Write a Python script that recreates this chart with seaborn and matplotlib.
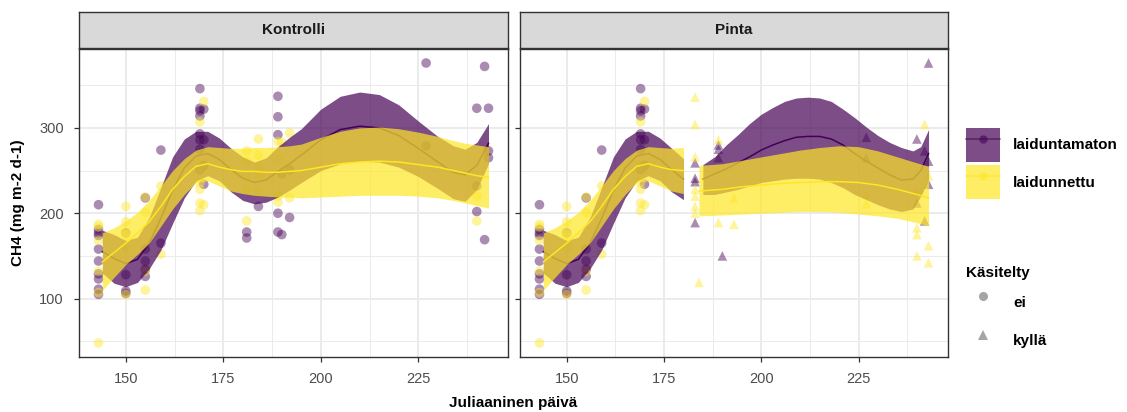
import numpy as np
import pandas as pd
import matplotlib
matplotlib.use("Agg")
import matplotlib.pyplot as plt
import seaborn as sns
from matplotlib.lines import Line2D
from matplotlib.patches import Patch
from matplotlib.legend_handler import HandlerTuple
from matplotlib.ticker import FixedLocator

# ---------------- data ----------------
panels = ["Kontrolli", "Pinta"]
groups = ["laiduntamaton", "laidunnettu"]
treatments = ["ei", "kyllä"]
x_breaks = [150, 175, 200, 225]
y_breaks = [100, 200, 300]

# Kontrolli, laiduntamaton, ei
kon_lt_day = [143, 143, 143, 143, 143, 143, 143, 143, 143, 143,
              150, 150, 150, 150, 155, 155, 155, 155, 155, 159, 159,
              169, 169, 169, 169, 169, 169, 169, 169, 170, 170, 170, 170,
              181, 181, 184, 189, 189, 189, 189, 189, 190, 190, 192, 192,
              227, 227, 240, 240, 240, 242, 242, 243, 243, 243]
kon_lt_ch4 = [210, 181, 177, 174, 158, 144, 129, 123, 111, 105,
              177, 128, 109, 106, 218, 158, 144, 134, 126, 274, 165,
              346, 323, 320, 314, 293, 286, 275, 251, 322, 286, 256, 234,
              178, 171, 208, 337, 313, 292, 200, 178, 246, 175, 251, 195,
              376, 279, 323, 232, 202, 372, 169, 323, 273, 265]
# Kontrolli, laidunnettu, ei
kon_ld_day = [143, 143, 143, 143, 143, 143, 150, 150, 150, 150, 150,
              155, 155, 155, 155, 159, 159, 169, 169, 169, 169, 169, 169,
              170, 170, 181, 181, 181, 181, 181, 184, 184, 184, 184, 184,
              189, 189, 189, 189, 190, 192, 192, 240, 240]
kon_ld_ch4 = [187, 184, 168, 132, 107, 48, 208, 190, 175, 160, 105,
              219, 201, 132, 110, 232, 152, 307, 255, 236, 228, 212, 203,
              331, 210, 273, 261, 243, 228, 191, 287, 268, 254, 244, 226,
              284, 263, 220, 213, 283, 294, 218, 191, 220]
# Pinta, laiduntamaton, ei
pin_lt_ei_day = [143, 143, 143, 143, 143, 143, 143, 143, 143, 143,
                 150, 150, 150, 150, 155, 155, 155, 155, 155, 159, 159,
                 169, 169, 169, 169, 169, 169, 169, 169, 170, 170, 170, 170]
pin_lt_ei_ch4 = [210, 181, 177, 174, 158, 144, 129, 123, 111, 105,
                 177, 128, 109, 106, 218, 158, 144, 134, 126, 274, 165,
                 346, 323, 320, 314, 293, 286, 275, 251, 322, 286, 256, 234]
# Pinta, laidunnettu, ei
pin_ld_ei_day = [143, 143, 143, 143, 143, 143, 150, 150, 150, 150, 150,
                 155, 155, 155, 155, 159, 159, 169, 169, 169, 169, 169, 169,
                 170, 170]
pin_ld_ei_ch4 = [187, 184, 168, 132, 107, 48, 208, 190, 175, 160, 105,
                 219, 201, 132, 110, 232, 152, 307, 255, 236, 228, 212, 203,
                 331, 210]
# Pinta, laiduntamaton, kyllä
pin_lt_ky_day = [183, 183, 183, 183, 189, 189, 189, 190, 227, 227,
                 240, 240, 242, 242, 243, 243, 243]
pin_lt_ky_ch4 = [259, 241, 237, 189, 280, 275, 265, 150, 289, 265,
                 287, 212, 191, 273, 376, 261, 234]
# Pinta, laidunnettu, kyllä
pin_ld_ky_day = [183, 183, 183, 183, 183, 183, 183, 184, 189, 189,
                 193, 193, 227, 227, 240, 240, 240, 240, 242, 243, 243, 243]
pin_ld_ky_ch4 = [336, 304, 266, 228, 220, 208, 200, 119, 286, 189,
                 218, 187, 222, 211, 226, 183, 175, 150, 304, 244, 162, 142]

# smooth fits (estimate, lower, upper)
kon_sm_day = [144, 147, 150, 153, 156, 159, 162, 165, 168, 171, 174, 177, 180,
              183, 186, 189, 192, 195, 200, 205, 210, 215, 220, 225, 230, 234,
              237, 240, 243]
kon_lt_fit = [155, 147, 141, 146, 165, 194, 227, 253, 267, 270, 263, 251, 241,
              236, 239, 249, 258, 268, 286, 298, 302, 300, 291, 276, 260, 248,
              245, 256, 282]
kon_lt_lo = [130, 118, 114, 119, 135, 157, 188, 218, 238, 244, 238, 225, 215,
             211, 213, 219, 227, 236, 250, 258, 261, 260, 254, 243, 229, 217,
             214, 228, 258]
kon_lt_hi = [180, 175, 168, 172, 195, 230, 266, 287, 296, 296, 288, 276, 266,
             260, 265, 278, 289, 299, 322, 337, 342, 339, 327, 308, 290, 279,
             275, 283, 305]
kon_ld_fit = [143, 154, 165, 177, 190, 208, 228, 243, 255, 258, 254, 251, 249,
              249, 248, 248, 249, 250, 254, 258, 260, 261, 260, 257, 254, 250,
              247, 244, 242]
kon_ld_lo = [110, 125, 140, 152, 165, 185, 205, 222, 236, 238, 232, 226, 223,
             221, 220, 219, 219, 218, 219, 220, 221, 221, 221, 220, 218, 215,
             212, 209, 206]
kon_ld_hi = [177, 183, 191, 201, 215, 232, 250, 264, 274, 278, 277, 276, 276,
             277, 277, 278, 279, 281, 289, 296, 300, 301, 299, 295, 290, 285,
             282, 280, 278]

pin_ei_sm_day = [144, 147, 150, 153, 156, 159, 162, 165, 168, 171, 174, 177, 180]
pin_lt_ei_fit = [155, 147, 141, 146, 165, 194, 227, 253, 267, 270, 263, 251, 240]
pin_lt_ei_lo = [130, 118, 114, 119, 135, 157, 188, 218, 238, 244, 238, 225, 216]
pin_lt_ei_hi = [180, 175, 168, 172, 195, 230, 266, 287, 296, 296, 288, 276, 264]
pin_ld_ei_fit = [143, 154, 165, 177, 190, 208, 228, 243, 255, 258, 254, 251, 250]
pin_ld_ei_lo = [110, 125, 140, 152, 165, 185, 205, 222, 236, 238, 232, 226, 223]
pin_ld_ei_hi = [177, 183, 191, 201, 215, 232, 250, 264, 274, 278, 277, 276, 277]

pin_lt_ky_sm_day = [185, 188, 191, 194, 197, 200, 203, 206, 209, 212, 215, 218,
                    221, 224, 227, 230, 233, 236, 239, 241, 243]
pin_lt_ky_fit = [240, 246, 252, 259, 266, 274, 280, 285, 289, 290, 290, 287,
                 280, 270, 261, 253, 245, 239, 240, 250, 270]
pin_lt_ky_lo = [222, 222, 225, 228, 232, 236, 238, 240, 241, 241, 240, 236,
                230, 222, 216, 210, 205, 202, 205, 220, 240]
pin_lt_ky_hi = [257, 266, 280, 292, 305, 316, 324, 331, 335, 336, 335, 331,
                322, 312, 301, 291, 283, 277, 273, 278, 298]
pin_ld_ky_sm_day = [184, 190, 195, 200, 205, 210, 215, 220, 225, 230, 235, 240, 243]
pin_ld_ky_fit = [226, 228, 231, 233, 235, 236, 237, 237, 236, 233, 228, 222, 218]
pin_ld_ky_lo = [197, 198, 199, 200, 201, 202, 202, 201, 199, 197, 194, 189, 185]
pin_ld_ky_hi = [256, 258, 262, 266, 270, 274, 277, 279, 278, 273, 266, 259, 255]

# ---------------- tables ----------------
def pts(panel, group, treat, days, vals):
    return pd.DataFrame({"paneeli": panel, "laidunnus": group, "Käsitelty": treat,
                         "paiva": days, "ch4": vals})

points = pd.concat([
    pts("Kontrolli", "laiduntamaton", "ei", kon_lt_day, kon_lt_ch4),
    pts("Kontrolli", "laidunnettu", "ei", kon_ld_day, kon_ld_ch4),
    pts("Pinta", "laiduntamaton", "ei", pin_lt_ei_day, pin_lt_ei_ch4),
    pts("Pinta", "laidunnettu", "ei", pin_ld_ei_day, pin_ld_ei_ch4),
    pts("Pinta", "laiduntamaton", "kyllä", pin_lt_ky_day, pin_lt_ky_ch4),
    pts("Pinta", "laidunnettu", "kyllä", pin_ld_ky_day, pin_ld_ky_ch4),
], ignore_index=True)

smooths = [
    ("Kontrolli", "laiduntamaton", kon_sm_day, kon_lt_fit, kon_lt_lo, kon_lt_hi),
    ("Kontrolli", "laidunnettu", kon_sm_day, kon_ld_fit, kon_ld_lo, kon_ld_hi),
    ("Pinta", "laiduntamaton", pin_ei_sm_day, pin_lt_ei_fit, pin_lt_ei_lo, pin_lt_ei_hi),
    ("Pinta", "laiduntamaton", pin_lt_ky_sm_day, pin_lt_ky_fit, pin_lt_ky_lo, pin_lt_ky_hi),
    ("Pinta", "laidunnettu", pin_ei_sm_day, pin_ld_ei_fit, pin_ld_ei_lo, pin_ld_ei_hi),
    ("Pinta", "laidunnettu", pin_ld_ky_sm_day, pin_ld_ky_fit, pin_ld_ky_lo, pin_ld_ky_hi),
]

# ---------------- style ----------------
COLORS = {"laiduntamaton": "#440154", "laidunnettu": "#FDE725"}
MARKERS = {"ei": "o", "kyllä": "^"}
RIB_ALPHA = 0.7
PT_ALPHA = 0.45
plt.rcParams["font.family"] = ["Liberation Sans", "DejaVu Sans"]

W, H = 1127, 412
fig = plt.figure(figsize=(W / 100, H / 100), dpi=100)


def box(left, top, width, height):
    return [left / W, 1 - (top + height) / H, width / W, height / H]


panel_boxes = {"Kontrolli": (79, 49, 429, 308), "Pinta": (520, 49, 428, 308)}

xmin, xmax = points["paiva"].min(), points["paiva"].max()
ymin, ymax = points["ch4"].min(), points["ch4"].max()
xpad, ypad = 0.05 * (xmax - xmin), 0.05 * (ymax - ymin)


def minor_from(breaks, lo, hi):
    step = breaks[1] - breaks[0]
    cand = [breaks[0] - step / 2] + [(a + b) / 2 for a, b in zip(breaks[:-1], breaks[1:])] + [breaks[-1] + step / 2]
    return [c for c in cand if lo <= c <= hi]


for p in panels:
    l, t, w, h = panel_boxes[p]
    ax = fig.add_axes(box(l, t, w, h))
    sub = points[points["paneeli"] == p]
    sns.scatterplot(data=sub, x="paiva", y="ch4", hue="laidunnus", style="Käsitelty",
                    hue_order=groups, style_order=treatments, palette=COLORS,
                    markers=MARKERS, s=48, alpha=PT_ALPHA, linewidth=0,
                    legend=False, ax=ax, zorder=2)
    z = 3
    for g in groups:
        for (sp, sg, d, fit, lo, hi) in smooths:
            if sp == p and sg == g:
                ax.fill_between(d, lo, hi, color=COLORS[g], alpha=RIB_ALPHA,
                                linewidth=0, zorder=z)
                ax.plot(d, fit, color=COLORS[g], lw=1.1, zorder=z + 0.5)
        z += 1

    ax.set_xlim(xmin - xpad, xmax + xpad)
    ax.set_ylim(ymin - ypad, ymax + ypad)
    ax.set_xticks(x_breaks)
    ax.set_yticks(y_breaks)
    ax.xaxis.set_minor_locator(FixedLocator(minor_from(x_breaks, xmin - xpad, xmax + xpad)))
    ax.yaxis.set_minor_locator(FixedLocator(minor_from(y_breaks, ymin - ypad, ymax + ypad)))
    ax.grid(which="major", color="#EBEBEB", lw=1.4, zorder=0)
    ax.grid(which="minor", color="#EBEBEB", lw=0.7, zorder=0)
    ax.set_axisbelow(True)
    ax.set_facecolor("white")
    for s in ax.spines.values():
        s.set_color("#333333")
        s.set_linewidth(1.0)
    ax.tick_params(which="major", length=3.5, width=0.9, color="#333333",
                   labelcolor="#4D4D4D", labelsize=10.5, pad=7.5)
    ax.tick_params(which="minor", length=0)
    if p != panels[0]:
        ax.set_yticklabels([])
    ax.set_xlabel("")
    ax.set_ylabel("")

    sax = fig.add_axes(box(l, 12, w, 36))
    sax.set_facecolor("#D9D9D9")
    sax.set_xticks([])
    sax.set_yticks([])
    for s in sax.spines.values():
        s.set_color("#333333")
        s.set_linewidth(1.0)
    sax.text(0.5, 0.5, p, ha="center", va="center", fontsize=11,
             fontweight="bold", color="#1A1A1A", transform=sax.transAxes)

fig.text(513.5 / W, 1 - 403 / H, "Juliaaninen päivä", ha="center", va="center",
         fontsize=11, fontweight="bold")
fig.text(18 / W, 1 - 203 / H, "CH4 (mg m-2 d-1)", ha="center", va="center",
         rotation=90, fontsize=11, fontweight="bold")

# legends
fs = 11
fs_px = fs * 100 / 72
key_len = 34 / fs_px
key_h = (34 / fs_px - 0.245) / 0.65
col_handles = [(Patch(facecolor=COLORS[g], alpha=RIB_ALPHA, linewidth=0),
                Line2D([], [], color=COLORS[g], lw=1.1, marker="o", markersize=6,
                       markerfacecolor=COLORS[g], alpha=0.6, markeredgewidth=0))
               for g in groups]
leg1 = fig.legend(col_handles, groups, loc="upper left",
                  bbox_to_anchor=(966 / W, 1 - 128 / H), frameon=False,
                  handler_map={tuple: HandlerTuple(ndivide=1, pad=0)},
                  handlelength=key_len, handleheight=key_h, handletextpad=0.85,
                  labelspacing=0.22, borderpad=0, borderaxespad=0,
                  prop={"size": fs, "weight": "bold"})

shape_handles = [Line2D([], [], linestyle="none", marker=MARKERS[t], color="#7F7F7F",
                        alpha=0.7, markersize=6.5, markeredgewidth=0)
                 for t in treatments]
leg2 = fig.legend(shape_handles, treatments, loc="upper left",
                  bbox_to_anchor=(966 / W, 1 - 266 / H), frameon=False,
                  title="Käsitelty", alignment="left",
                  title_fontproperties={"size": fs, "weight": "bold"},
                  handlelength=key_len, handleheight=key_h, handletextpad=0.85,
                  labelspacing=0.28, borderpad=0, borderaxespad=0,
                  prop={"size": fs, "weight": "bold"})
leg2._legend_box.sep = 4

fig.savefig("out.png", dpi=100)
